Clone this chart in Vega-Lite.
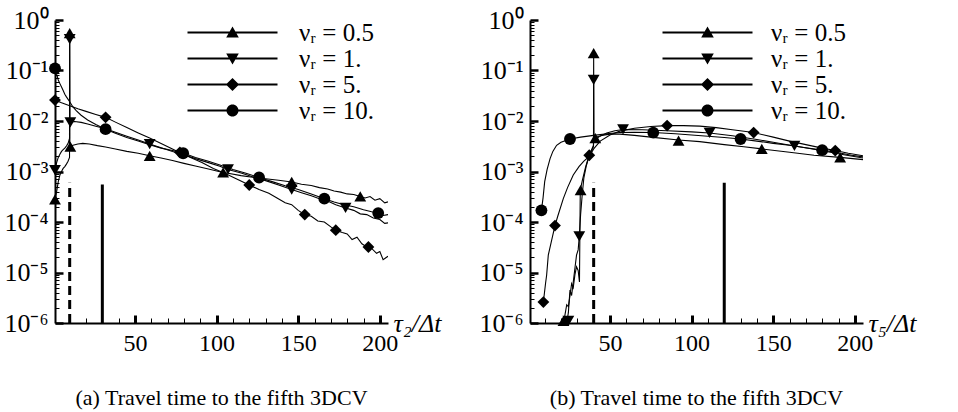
{
  "$schema": "https://vega.github.io/schema/vega-lite/v6.json",
  "background": "white",
  "padding": {"left": 3, "top": 7, "right": 5, "bottom": 5},
  "config": {"view": {"stroke": null}, "font": "Liberation Serif"},
  "datasets": {
    "lines": [
      {"p":"a","s":"0.5","x":1,"y":2.8e-4},{"p":"a","s":"0.5","x":2,"y":4.0e-4},{"p":"a","s":"0.5","x":3,"y":6.3e-4},{"p":"a","s":"0.5","x":4,"y":8.5e-4},{"p":"a","s":"0.5","x":5,"y":1.0e-3},{"p":"a","s":"0.5","x":6,"y":1.15e-3},{"p":"a","s":"0.5","x":7,"y":1.25e-3},{"p":"a","s":"0.5","x":8,"y":1.4e-3},{"p":"a","s":"0.5","x":9,"y":1.6e-3},{"p":"a","s":"0.5","x":9.9,"y":1.9e-3},{"p":"a","s":"0.5","x":10,"y":0.55},{"p":"a","s":"0.5","x":10.1,"y":3.1e-3},{"p":"a","s":"0.5","x":12,"y":3.3e-3},{"p":"a","s":"0.5","x":15,"y":3.5e-3},{"p":"a","s":"0.5","x":18,"y":3.6e-3},{"p":"a","s":"0.5","x":22,"y":3.5e-3},{"p":"a","s":"0.5","x":27,"y":3.25e-3},{"p":"a","s":"0.5","x":32,"y":3.05e-3},{"p":"a","s":"0.5","x":38,"y":2.8e-3},{"p":"a","s":"0.5","x":45,"y":2.5e-3},{"p":"a","s":"0.5","x":52,"y":2.3e-3},{"p":"a","s":"0.5","x":59,"y":2.05e-3},{"p":"a","s":"0.5","x":66,"y":1.85e-3},{"p":"a","s":"0.5","x":73,"y":1.65e-3},{"p":"a","s":"0.5","x":80,"y":1.45e-3},{"p":"a","s":"0.5","x":87,"y":1.28e-3},{"p":"a","s":"0.5","x":95,"y":1.12e-3},{"p":"a","s":"0.5","x":102,"y":9.9e-4},{"p":"a","s":"0.5","x":107,"y":9.2e-4},{"p":"a","s":"0.5","x":115,"y":8.3e-4},{"p":"a","s":"0.5","x":122,"y":7.7e-4},{"p":"a","s":"0.5","x":130,"y":7.2e-4},{"p":"a","s":"0.5","x":138,"y":6.7e-4},{"p":"a","s":"0.5","x":146,"y":6.2e-4},{"p":"a","s":"0.5","x":152,"y":5.6e-4},{"p":"a","s":"0.5","x":158,"y":5.3e-4},{"p":"a","s":"0.5","x":163,"y":4.8e-4},{"p":"a","s":"0.5","x":168,"y":4.5e-4},{"p":"a","s":"0.5","x":172,"y":4.1e-4},{"p":"a","s":"0.5","x":176,"y":3.9e-4},{"p":"a","s":"0.5","x":180,"y":3.6e-4},{"p":"a","s":"0.5","x":184,"y":3.5e-4},{"p":"a","s":"0.5","x":188,"y":3.2e-4},{"p":"a","s":"0.5","x":191,"y":3.0e-4},{"p":"a","s":"0.5","x":194,"y":3.2e-4},{"p":"a","s":"0.5","x":197,"y":2.7e-4},{"p":"a","s":"0.5","x":200,"y":2.9e-4},{"p":"a","s":"0.5","x":203,"y":2.4e-4},{"p":"a","s":"0.5","x":205,"y":2.5e-4},

      {"p":"a","s":"1.","x":1,"y":1.07e-3},{"p":"a","s":"1.","x":2,"y":1.5e-3},{"p":"a","s":"1.","x":3,"y":1.9e-3},{"p":"a","s":"1.","x":4,"y":2.2e-3},{"p":"a","s":"1.","x":5,"y":2.5e-3},{"p":"a","s":"1.","x":6,"y":2.7e-3},{"p":"a","s":"1.","x":7,"y":2.9e-3},{"p":"a","s":"1.","x":8,"y":3.2e-3},{"p":"a","s":"1.","x":9,"y":3.6e-3},{"p":"a","s":"1.","x":9.9,"y":4.5e-3},{"p":"a","s":"1.","x":10,"y":0.42},{"p":"a","s":"1.","x":10.1,"y":9.3e-3},{"p":"a","s":"1.","x":13,"y":9.8e-3},{"p":"a","s":"1.","x":17,"y":9.4e-3},{"p":"a","s":"1.","x":21,"y":8.7e-3},{"p":"a","s":"1.","x":26,"y":7.9e-3},{"p":"a","s":"1.","x":32,"y":7.0e-3},{"p":"a","s":"1.","x":38,"y":6.0e-3},{"p":"a","s":"1.","x":45,"y":5.0e-3},{"p":"a","s":"1.","x":52,"y":4.2e-3},{"p":"a","s":"1.","x":59,"y":3.5e-3},{"p":"a","s":"1.","x":66,"y":2.95e-3},{"p":"a","s":"1.","x":73,"y":2.5e-3},{"p":"a","s":"1.","x":80,"y":2.15e-3},{"p":"a","s":"1.","x":87,"y":1.8e-3},{"p":"a","s":"1.","x":95,"y":1.5e-3},{"p":"a","s":"1.","x":102,"y":1.27e-3},{"p":"a","s":"1.","x":107,"y":1.1e-3},{"p":"a","s":"1.","x":115,"y":9.3e-4},{"p":"a","s":"1.","x":122,"y":7.9e-4},{"p":"a","s":"1.","x":130,"y":6.6e-4},{"p":"a","s":"1.","x":138,"y":5.4e-4},{"p":"a","s":"1.","x":146,"y":4.4e-4},{"p":"a","s":"1.","x":152,"y":3.8e-4},{"p":"a","s":"1.","x":158,"y":3.3e-4},{"p":"a","s":"1.","x":163,"y":2.9e-4},{"p":"a","s":"1.","x":168,"y":2.6e-4},{"p":"a","s":"1.","x":173,"y":2.2e-4},{"p":"a","s":"1.","x":179,"y":1.9e-4},{"p":"a","s":"1.","x":184,"y":1.7e-4},{"p":"a","s":"1.","x":188,"y":1.45e-4},{"p":"a","s":"1.","x":192,"y":1.4e-4},{"p":"a","s":"1.","x":196,"y":1.2e-4},{"p":"a","s":"1.","x":200,"y":1.12e-4},{"p":"a","s":"1.","x":203,"y":9.4e-5},{"p":"a","s":"1.","x":205,"y":9.6e-5},

      {"p":"a","s":"5.","x":1,"y":0.026},{"p":"a","s":"5.","x":5,"y":0.023},{"p":"a","s":"5.","x":10,"y":0.02},{"p":"a","s":"5.","x":15,"y":0.0175},{"p":"a","s":"5.","x":20,"y":0.0155},{"p":"a","s":"5.","x":26,"y":0.0135},{"p":"a","s":"5.","x":32,"y":0.0118},{"p":"a","s":"5.","x":38,"y":9.5e-3},{"p":"a","s":"5.","x":45,"y":7.4e-3},{"p":"a","s":"5.","x":52,"y":5.8e-3},{"p":"a","s":"5.","x":59,"y":4.6e-3},{"p":"a","s":"5.","x":66,"y":3.6e-3},{"p":"a","s":"5.","x":72,"y":2.9e-3},{"p":"a","s":"5.","x":77,"y":2.4e-3},{"p":"a","s":"5.","x":84,"y":1.9e-3},{"p":"a","s":"5.","x":91,"y":1.5e-3},{"p":"a","s":"5.","x":98,"y":1.15e-3},{"p":"a","s":"5.","x":105,"y":9.2e-4},{"p":"a","s":"5.","x":112,"y":7.2e-4},{"p":"a","s":"5.","x":120,"y":5.4e-4},{"p":"a","s":"5.","x":126,"y":4.4e-4},{"p":"a","s":"5.","x":132,"y":3.7e-4},{"p":"a","s":"5.","x":137,"y":3.0e-4},{"p":"a","s":"5.","x":142,"y":2.4e-4},{"p":"a","s":"5.","x":146,"y":2.2e-4},{"p":"a","s":"5.","x":150,"y":1.7e-4},{"p":"a","s":"5.","x":154,"y":1.4e-4},{"p":"a","s":"5.","x":158,"y":1.3e-4},{"p":"a","s":"5.","x":162,"y":1.05e-4},{"p":"a","s":"5.","x":166,"y":1.0e-4},{"p":"a","s":"5.","x":170,"y":8.0e-5},{"p":"a","s":"5.","x":173,"y":6.9e-5},{"p":"a","s":"5.","x":177,"y":6.2e-5},{"p":"a","s":"5.","x":180,"y":5.8e-5},{"p":"a","s":"5.","x":183,"y":4.5e-5},{"p":"a","s":"5.","x":186,"y":5.0e-5},{"p":"a","s":"5.","x":189,"y":3.7e-5},{"p":"a","s":"5.","x":192,"y":3.2e-5},{"p":"a","s":"5.","x":195,"y":3.0e-5},{"p":"a","s":"5.","x":198,"y":2.4e-5},{"p":"a","s":"5.","x":200,"y":2.6e-5},{"p":"a","s":"5.","x":202,"y":1.8e-5},{"p":"a","s":"5.","x":205,"y":2.1e-5},

      {"p":"a","s":"10.","x":1,"y":0.11},{"p":"a","s":"10.","x":2,"y":0.085},{"p":"a","s":"10.","x":3,"y":0.065},{"p":"a","s":"10.","x":4,"y":0.055},{"p":"a","s":"10.","x":5,"y":0.047},{"p":"a","s":"10.","x":6,"y":0.04},{"p":"a","s":"10.","x":7,"y":0.034},{"p":"a","s":"10.","x":8,"y":0.03},{"p":"a","s":"10.","x":10,"y":0.024},{"p":"a","s":"10.","x":12,"y":0.019},{"p":"a","s":"10.","x":14,"y":0.016},{"p":"a","s":"10.","x":17,"y":0.013},{"p":"a","s":"10.","x":21,"y":0.0105},{"p":"a","s":"10.","x":26,"y":8.5e-3},{"p":"a","s":"10.","x":32,"y":6.9e-3},{"p":"a","s":"10.","x":38,"y":5.7e-3},{"p":"a","s":"10.","x":45,"y":4.7e-3},{"p":"a","s":"10.","x":52,"y":4.0e-3},{"p":"a","s":"10.","x":59,"y":3.4e-3},{"p":"a","s":"10.","x":66,"y":2.9e-3},{"p":"a","s":"10.","x":73,"y":2.6e-3},{"p":"a","s":"10.","x":80,"y":2.3e-3},{"p":"a","s":"10.","x":87,"y":1.9e-3},{"p":"a","s":"10.","x":95,"y":1.6e-3},{"p":"a","s":"10.","x":102,"y":1.35e-3},{"p":"a","s":"10.","x":110,"y":1.1e-3},{"p":"a","s":"10.","x":118,"y":9.2e-4},{"p":"a","s":"10.","x":126,"y":7.6e-4},{"p":"a","s":"10.","x":134,"y":6.3e-4},{"p":"a","s":"10.","x":142,"y":5.2e-4},{"p":"a","s":"10.","x":150,"y":4.4e-4},{"p":"a","s":"10.","x":158,"y":3.6e-4},{"p":"a","s":"10.","x":166,"y":2.9e-4},{"p":"a","s":"10.","x":172,"y":2.5e-4},{"p":"a","s":"10.","x":178,"y":2.2e-4},{"p":"a","s":"10.","x":184,"y":2.0e-4},{"p":"a","s":"10.","x":190,"y":1.75e-4},{"p":"a","s":"10.","x":195,"y":1.6e-4},{"p":"a","s":"10.","x":199,"y":1.5e-4},{"p":"a","s":"10.","x":202,"y":1.35e-4},{"p":"a","s":"10.","x":205,"y":1.4e-4},

      {"p":"b","s":"0.5","x":21.5,"y":1.0e-6},{"p":"b","s":"0.5","x":22.5,"y":1.5e-6},{"p":"b","s":"0.5","x":23.5,"y":2.3e-6},{"p":"b","s":"0.5","x":24.5,"y":2.1e-6},{"p":"b","s":"0.5","x":25.5,"y":3.5e-6},{"p":"b","s":"0.5","x":26.5,"y":6e-6},{"p":"b","s":"0.5","x":27.5,"y":5e-6},{"p":"b","s":"0.5","x":28.5,"y":9e-6},{"p":"b","s":"0.5","x":29.5,"y":1.3e-5},{"p":"b","s":"0.5","x":30.5,"y":1.1e-5},{"p":"b","s":"0.5","x":31.3,"y":6.5e-6},{"p":"b","s":"0.5","x":31.8,"y":4.3e-4},{"p":"b","s":"0.5","x":33,"y":6.5e-4},{"p":"b","s":"0.5","x":35,"y":1.2e-3},{"p":"b","s":"0.5","x":37,"y":2.0e-3},{"p":"b","s":"0.5","x":39.9,"y":3.3e-3},{"p":"b","s":"0.5","x":40,"y":0.22},{"p":"b","s":"0.5","x":40.1,"y":4.6e-3},{"p":"b","s":"0.5","x":45,"y":5.2e-3},{"p":"b","s":"0.5","x":50,"y":5.5e-3},{"p":"b","s":"0.5","x":56,"y":5.5e-3},{"p":"b","s":"0.5","x":65,"y":5.2e-3},{"p":"b","s":"0.5","x":75,"y":4.8e-3},{"p":"b","s":"0.5","x":92,"y":4.2e-3},{"p":"b","s":"0.5","x":105,"y":3.9e-3},{"p":"b","s":"0.5","x":120,"y":3.4e-3},{"p":"b","s":"0.5","x":132,"y":3.1e-3},{"p":"b","s":"0.5","x":143,"y":2.8e-3},{"p":"b","s":"0.5","x":160,"y":2.4e-3},{"p":"b","s":"0.5","x":175,"y":2.1e-3},{"p":"b","s":"0.5","x":191,"y":1.9e-3},{"p":"b","s":"0.5","x":205,"y":1.72e-3},

      {"p":"b","s":"1.","x":23.5,"y":1.0e-6},{"p":"b","s":"1.","x":24.5,"y":1.6e-6},{"p":"b","s":"1.","x":25.5,"y":4.5e-6},{"p":"b","s":"1.","x":26.5,"y":3.5e-6},{"p":"b","s":"1.","x":27.5,"y":6.5e-6},{"p":"b","s":"1.","x":28.5,"y":1.2e-5},{"p":"b","s":"1.","x":29.5,"y":2.2e-5},{"p":"b","s":"1.","x":30.5,"y":2.8e-5},{"p":"b","s":"1.","x":31.2,"y":5.2e-5},{"p":"b","s":"1.","x":32,"y":1.4e-4},{"p":"b","s":"1.","x":33,"y":3.5e-4},{"p":"b","s":"1.","x":34,"y":7.5e-4},{"p":"b","s":"1.","x":35.5,"y":1.3e-3},{"p":"b","s":"1.","x":37,"y":1.9e-3},{"p":"b","s":"1.","x":38.5,"y":2.5e-3},{"p":"b","s":"1.","x":39.9,"y":3.1e-3},{"p":"b","s":"1.","x":40,"y":0.065},{"p":"b","s":"1.","x":40.1,"y":3.9e-3},{"p":"b","s":"1.","x":43,"y":4.8e-3},{"p":"b","s":"1.","x":48,"y":5.8e-3},{"p":"b","s":"1.","x":53,"y":6.4e-3},{"p":"b","s":"1.","x":58,"y":6.8e-3},{"p":"b","s":"1.","x":70,"y":6.7e-3},{"p":"b","s":"1.","x":85,"y":6.4e-3},{"p":"b","s":"1.","x":100,"y":6.1e-3},{"p":"b","s":"1.","x":111,"y":5.8e-3},{"p":"b","s":"1.","x":125,"y":5.1e-3},{"p":"b","s":"1.","x":140,"y":4.3e-3},{"p":"b","s":"1.","x":150,"y":3.8e-3},{"p":"b","s":"1.","x":163,"y":3.2e-3},{"p":"b","s":"1.","x":175,"y":2.75e-3},{"p":"b","s":"1.","x":185,"y":2.4e-3},{"p":"b","s":"1.","x":195,"y":2.1e-3},{"p":"b","s":"1.","x":205,"y":1.85e-3},

      {"p":"b","s":"5.","x":9.2,"y":2.6e-6},{"p":"b","s":"5.","x":10.5,"y":6e-6},{"p":"b","s":"5.","x":11.2,"y":8.9e-6},{"p":"b","s":"5.","x":12.2,"y":2.2e-5},{"p":"b","s":"5.","x":14,"y":4e-5},{"p":"b","s":"5.","x":16.3,"y":8.5e-5},{"p":"b","s":"5.","x":18,"y":1.3e-4},{"p":"b","s":"5.","x":21.4,"y":2.9e-4},{"p":"b","s":"5.","x":24,"y":4.8e-4},{"p":"b","s":"5.","x":27.5,"y":8.5e-4},{"p":"b","s":"5.","x":31,"y":1.25e-3},{"p":"b","s":"5.","x":34,"y":1.6e-3},{"p":"b","s":"5.","x":37.3,"y":2.0e-3},{"p":"b","s":"5.","x":40,"y":2.8e-3},{"p":"b","s":"5.","x":44,"y":4.0e-3},{"p":"b","s":"5.","x":50,"y":5.3e-3},{"p":"b","s":"5.","x":56,"y":6.3e-3},{"p":"b","s":"5.","x":65,"y":7.2e-3},{"p":"b","s":"5.","x":75,"y":7.8e-3},{"p":"b","s":"5.","x":85,"y":8.1e-3},{"p":"b","s":"5.","x":95,"y":8.1e-3},{"p":"b","s":"5.","x":105,"y":7.9e-3},{"p":"b","s":"5.","x":115,"y":7.4e-3},{"p":"b","s":"5.","x":125,"y":6.7e-3},{"p":"b","s":"5.","x":138,"y":5.9e-3},{"p":"b","s":"5.","x":150,"y":4.8e-3},{"p":"b","s":"5.","x":160,"y":4.0e-3},{"p":"b","s":"5.","x":170,"y":3.4e-3},{"p":"b","s":"5.","x":180,"y":2.9e-3},{"p":"b","s":"5.","x":188,"y":2.6e-3},{"p":"b","s":"5.","x":196,"y":2.3e-3},{"p":"b","s":"5.","x":205,"y":2.05e-3},

      {"p":"b","s":"10.","x":8,"y":1.7e-4},{"p":"b","s":"10.","x":9,"y":3.0e-4},{"p":"b","s":"10.","x":10,"y":6.3e-4},{"p":"b","s":"10.","x":11.5,"y":1.1e-3},{"p":"b","s":"10.","x":13.3,"y":1.8e-3},{"p":"b","s":"10.","x":15,"y":2.5e-3},{"p":"b","s":"10.","x":17.3,"y":3.3e-3},{"p":"b","s":"10.","x":20,"y":3.8e-3},{"p":"b","s":"10.","x":25.5,"y":4.4e-3},{"p":"b","s":"10.","x":32,"y":4.8e-3},{"p":"b","s":"10.","x":40,"y":5.2e-3},{"p":"b","s":"10.","x":48,"y":5.6e-3},{"p":"b","s":"10.","x":56,"y":5.9e-3},{"p":"b","s":"10.","x":65,"y":6.0e-3},{"p":"b","s":"10.","x":76.5,"y":5.9e-3},{"p":"b","s":"10.","x":90,"y":5.6e-3},{"p":"b","s":"10.","x":100,"y":5.3e-3},{"p":"b","s":"10.","x":110,"y":5.0e-3},{"p":"b","s":"10.","x":120,"y":4.7e-3},{"p":"b","s":"10.","x":130,"y":4.4e-3},{"p":"b","s":"10.","x":140,"y":4.0e-3},{"p":"b","s":"10.","x":150,"y":3.6e-3},{"p":"b","s":"10.","x":160,"y":3.3e-3},{"p":"b","s":"10.","x":170,"y":2.95e-3},{"p":"b","s":"10.","x":180,"y":2.65e-3},{"p":"b","s":"10.","x":190,"y":2.35e-3},{"p":"b","s":"10.","x":198,"y":2.1e-3},{"p":"b","s":"10.","x":205,"y":1.95e-3}
    ],
    "markers": [
      {"p":"a","s":"0.5","x":1,"y":2.8e-4},{"p":"a","s":"0.5","x":10,"y":0.55},{"p":"a","s":"0.5","x":10.4,"y":3.1e-3},{"p":"a","s":"0.5","x":59,"y":2.05e-3},{"p":"a","s":"0.5","x":104,"y":9.6e-4},{"p":"a","s":"0.5","x":146,"y":6.2e-4},{"p":"a","s":"0.5","x":188,"y":3.2e-4},
      {"p":"a","s":"1.","x":1,"y":1.07e-3},{"p":"a","s":"1.","x":10,"y":0.42},{"p":"a","s":"1.","x":10.4,"y":9.4e-3},{"p":"a","s":"1.","x":59,"y":3.5e-3},{"p":"a","s":"1.","x":107,"y":1.1e-3},{"p":"a","s":"1.","x":146,"y":4.4e-4},{"p":"a","s":"1.","x":179,"y":1.9e-4},
      {"p":"a","s":"5.","x":1,"y":0.026},{"p":"a","s":"5.","x":32,"y":0.0118},{"p":"a","s":"5.","x":77.5,"y":2.4e-3},{"p":"a","s":"5.","x":120,"y":5.4e-4},{"p":"a","s":"5.","x":154,"y":1.4e-4},{"p":"a","s":"5.","x":173,"y":6.9e-5},{"p":"a","s":"5.","x":193,"y":3.2e-5},
      {"p":"a","s":"10.","x":1,"y":0.11},{"p":"a","s":"10.","x":32,"y":6.9e-3},{"p":"a","s":"10.","x":79.5,"y":2.3e-3},{"p":"a","s":"10.","x":126,"y":7.6e-4},{"p":"a","s":"10.","x":166,"y":2.9e-4},{"p":"a","s":"10.","x":199,"y":1.5e-4},
      {"p":"b","s":"0.5","x":21.5,"y":1.1e-6},{"p":"b","s":"0.5","x":32,"y":4.3e-4},{"p":"b","s":"0.5","x":40,"y":0.22},{"p":"b","s":"0.5","x":41,"y":4.6e-3},{"p":"b","s":"0.5","x":92,"y":4.1e-3},{"p":"b","s":"0.5","x":143,"y":2.8e-3},{"p":"b","s":"0.5","x":191,"y":1.9e-3},
      {"p":"b","s":"1.","x":24.5,"y":1.1e-6},{"p":"b","s":"1.","x":31.2,"y":5.2e-5},{"p":"b","s":"1.","x":40,"y":0.065},{"p":"b","s":"1.","x":58,"y":6.8e-3},{"p":"b","s":"1.","x":111,"y":5.8e-3},{"p":"b","s":"1.","x":163,"y":3.2e-3},
      {"p":"b","s":"5.","x":9.2,"y":2.6e-6},{"p":"b","s":"5.","x":16.3,"y":8.5e-5},{"p":"b","s":"5.","x":37.3,"y":2.1e-3},{"p":"b","s":"5.","x":85,"y":8.1e-3},{"p":"b","s":"5.","x":138,"y":5.9e-3},{"p":"b","s":"5.","x":188,"y":2.6e-3},
      {"p":"b","s":"10.","x":8,"y":1.7e-4},{"p":"b","s":"10.","x":25.5,"y":4.4e-3},{"p":"b","s":"10.","x":76.5,"y":5.9e-3},{"p":"b","s":"10.","x":130,"y":4.4e-3},{"p":"b","s":"10.","x":180,"y":2.65e-3}
    ],
    "vlines": [
      {"p":"a","k":"dashed","x":10,"y0":1e-6,"y1":6e-4},
      {"p":"a","k":"solid","x":30,"y0":1e-6,"y1":5.5e-4},
      {"p":"b","k":"dashed","x":40,"y0":1e-6,"y1":6e-4},
      {"p":"b","k":"solid","x":120,"y0":1e-6,"y1":6e-4}
    ]
  },
  "hconcat": [
    {
      "width": 333,
      "height": 303,
      "title": {"text": "(a) Travel time to the fifth 3DCV", "orient": "bottom", "anchor": "middle", "font": "Liberation Serif", "fontSize": 22, "fontWeight": "normal", "color": "black", "offset": 33},
      "resolve": {"scale": {"shape": "independent"}, "legend": {"shape": "independent"}, "axis": {"x": "independent", "y": "independent"}},
      "layer": [
        {
          "data": {"name": "lines"},
          "transform": [{"filter": "datum.p === 'a'"}],
          "mark": {"type": "line", "color": "black", "strokeWidth": 1.1, "clip": true},
          "encoding": {
            "x": {"field": "x", "type": "quantitative", "scale": {"domain": [1, 205], "nice": false, "zero": false},
              "axis": {"orient": "bottom", "title": "τ₂/Δt", "titleX": 338, "titleY": 0, "titleAlign": "left", "titleBaseline": "middle", "titleAngle": 0, "titleFont": "Liberation Serif", "titleFontSize": 26, "titleFontStyle": "italic", "titleFontWeight": "normal", "titleColor": "black",
                "values": [50, 100, 150, 200], "ticks": false,
                "labelFont": "Liberation Serif", "labelFontSize": 24, "labelColor": "black", "labelPadding": 8, "labelOverlap": false, "labelBound": false, "labelFlush": false,
                "domainColor": "black", "domainWidth": 2, "grid": false}},
            "y": {"field": "y", "type": "quantitative", "scale": {"type": "log", "domain": [1e-6, 1], "nice": false},
              "axis": {"orient": "left", "title": null, "values": [1e-6, 1e-5, 1e-4, 1e-3, 1e-2, 0.1, 1], "ticks": false,
                "labelExpr": "'10' + ['⁰','⁻¹','⁻²','⁻³','⁻⁴','⁻⁵','⁻⁶'][-round(log(datum.value)/LN10)]",
                "labelFont": "Liberation Serif", "labelFontSize": 26, "labelColor": "black", "labelPadding": 7, "labelOverlap": false, "labelBound": false, "labelFlush": false,
                "domainColor": "black", "domainWidth": 2, "grid": false}},
            "detail": {"field": "s", "type": "nominal"}
          }
        },
        {
          "data": {"name": "vlines"},
          "transform": [{"filter": "datum.p === 'a'"}],
          "mark": {"type": "rule", "color": "black", "strokeWidth": 3},
          "encoding": {
            "x": {"field": "x", "type": "quantitative",
              "axis": {"orient": "bottom", "offset": -8, "title": null, "values": [50, 100, 150, 200], "labels": false, "domain": false, "grid": false, "ticks": true, "tickSize": 8, "tickWidth": 3, "tickColor": "black"}},
            "y": {"field": "y0", "type": "quantitative",
              "axis": {"orient": "left", "offset": -8, "title": null, "values": [1e-6, 1e-5, 1e-4, 1e-3, 1e-2, 0.1, 1], "labels": false, "domain": false, "grid": false, "ticks": true, "tickSize": 8, "tickWidth": 2.5, "tickColor": "black"}},
            "y2": {"field": "y1"},
            "strokeDash": {"field": "k", "type": "nominal", "scale": {"domain": ["solid", "dashed"], "range": [[1, 0], [9, 5]]}, "legend": null}
          }
        },
        {
          "data": {"name": "markers"},
          "transform": [{"filter": "datum.p === 'a'"}],
          "mark": {"type": "point", "filled": true, "color": "black", "size": 140, "opacity": 1},
          "encoding": {
            "x": {"field": "x", "type": "quantitative",
              "axis": {"orient": "bottom", "offset": -5, "title": null, "values": [10,20,30,40,60,70,80,90,110,120,130,140,160,170,180,190], "labels": false, "domain": false, "grid": false, "ticks": true, "tickSize": 5, "tickWidth": 1, "tickColor": "black"}},
            "y": {"field": "y", "type": "quantitative",
              "axis": {"orient": "left", "offset": -4, "title": null, "values": [2e-6,3e-6,4e-6,5e-6,6e-6,7e-6,8e-6,9e-6,2e-5,3e-5,4e-5,5e-5,6e-5,7e-5,8e-5,9e-5,2e-4,3e-4,4e-4,5e-4,6e-4,7e-4,8e-4,9e-4,2e-3,3e-3,4e-3,5e-3,6e-3,7e-3,8e-3,9e-3,2e-2,3e-2,4e-2,5e-2,6e-2,7e-2,8e-2,9e-2,0.2,0.3,0.4,0.5,0.6,0.7,0.8,0.9], "labels": false, "domain": false, "grid": false, "ticks": true, "tickSize": 4, "tickWidth": 1, "tickColor": "black"}},
            "shape": {"field": "s", "type": "nominal", "scale": {"domain": ["0.5", "1.", "5.", "10."], "range": ["triangle-up", "triangle-down", "diamond", "circle"]}, "legend": null}
          }
        },
        {
          "data": {"name": "markers"},
          "transform": [{"filter": "datum.p === 'none'"}],
          "mark": {"type": "point", "filled": true, "color": "black", "opacity": 1},
          "encoding": {
            "shape": {"field": "s", "type": "nominal",
              "scale": {"domain": ["0.5", "1.", "5.", "10."], "range": [
                "M-7.5,-0.15H7.5V0.15H-7.5ZM0,-1L1.05,0.85H-1.05Z",
                "M-7.5,-0.15H7.5V0.15H-7.5ZM0,1L-1.05,-0.85H1.05Z",
                "M-7.5,-0.15H7.5V0.15H-7.5ZM0,-1.1L1.1,0L0,1.1L-1.1,0Z",
                "M-7.5,-0.15H7.5V0.15H-7.5ZM1,0A1,1,0,1,1,-1,0A1,1,0,1,1,1,0Z"]},
              "legend": {"orient": "none", "legendX": 165, "legendY": 0, "title": null, "labelFont": "Liberation Serif", "labelFontSize": 25, "labelColor": "black", "labelOffset": 54, "symbolSize": 144, "symbolFillColor": "black", "symbolOpacity": 1, "rowPadding": -1.7, "labelExpr": "'νᵣ  =  ' + datum.label"}}
          }
        }
      ]
    },
    {
      "width": 333,
      "height": 303,
      "title": {"text": "(b) Travel time to the fifth 3DCV", "orient": "bottom", "anchor": "middle", "font": "Liberation Serif", "fontSize": 22, "fontWeight": "normal", "color": "black", "offset": 33},
      "resolve": {"scale": {"shape": "independent"}, "legend": {"shape": "independent"}, "axis": {"x": "independent", "y": "independent"}},
      "layer": [
        {
          "data": {"name": "lines"},
          "transform": [{"filter": "datum.p === 'b'"}],
          "mark": {"type": "line", "color": "black", "strokeWidth": 1.1, "clip": true},
          "encoding": {
            "x": {"field": "x", "type": "quantitative", "scale": {"domain": [1, 205], "nice": false, "zero": false},
              "axis": {"orient": "bottom", "title": "τ₅/Δt", "titleX": 338, "titleY": 0, "titleAlign": "left", "titleBaseline": "middle", "titleAngle": 0, "titleFont": "Liberation Serif", "titleFontSize": 26, "titleFontStyle": "italic", "titleFontWeight": "normal", "titleColor": "black",
                "values": [50, 100, 150, 200], "ticks": false,
                "labelFont": "Liberation Serif", "labelFontSize": 24, "labelColor": "black", "labelPadding": 8, "labelOverlap": false, "labelBound": false, "labelFlush": false,
                "domainColor": "black", "domainWidth": 2, "grid": false}},
            "y": {"field": "y", "type": "quantitative", "scale": {"type": "log", "domain": [1e-6, 1], "nice": false},
              "axis": {"orient": "left", "title": null, "values": [1e-6, 1e-5, 1e-4, 1e-3, 1e-2, 0.1, 1], "ticks": false,
                "labelExpr": "'10' + ['⁰','⁻¹','⁻²','⁻³','⁻⁴','⁻⁵','⁻⁶'][-round(log(datum.value)/LN10)]",
                "labelFont": "Liberation Serif", "labelFontSize": 26, "labelColor": "black", "labelPadding": 7, "labelOverlap": false, "labelBound": false, "labelFlush": false,
                "domainColor": "black", "domainWidth": 2, "grid": false}},
            "detail": {"field": "s", "type": "nominal"}
          }
        },
        {
          "data": {"name": "vlines"},
          "transform": [{"filter": "datum.p === 'b'"}],
          "mark": {"type": "rule", "color": "black", "strokeWidth": 3},
          "encoding": {
            "x": {"field": "x", "type": "quantitative",
              "axis": {"orient": "bottom", "offset": -8, "title": null, "values": [50, 100, 150, 200], "labels": false, "domain": false, "grid": false, "ticks": true, "tickSize": 8, "tickWidth": 3, "tickColor": "black"}},
            "y": {"field": "y0", "type": "quantitative",
              "axis": {"orient": "left", "offset": -8, "title": null, "values": [1e-6, 1e-5, 1e-4, 1e-3, 1e-2, 0.1, 1], "labels": false, "domain": false, "grid": false, "ticks": true, "tickSize": 8, "tickWidth": 2.5, "tickColor": "black"}},
            "y2": {"field": "y1"},
            "strokeDash": {"field": "k", "type": "nominal", "scale": {"domain": ["solid", "dashed"], "range": [[1, 0], [9, 5]]}, "legend": null}
          }
        },
        {
          "data": {"name": "markers"},
          "transform": [{"filter": "datum.p === 'b'"}],
          "mark": {"type": "point", "filled": true, "color": "black", "size": 140, "opacity": 1},
          "encoding": {
            "x": {"field": "x", "type": "quantitative",
              "axis": {"orient": "bottom", "offset": -5, "title": null, "values": [10,20,30,40,60,70,80,90,110,120,130,140,160,170,180,190], "labels": false, "domain": false, "grid": false, "ticks": true, "tickSize": 5, "tickWidth": 1, "tickColor": "black"}},
            "y": {"field": "y", "type": "quantitative",
              "axis": {"orient": "left", "offset": -4, "title": null, "values": [2e-6,3e-6,4e-6,5e-6,6e-6,7e-6,8e-6,9e-6,2e-5,3e-5,4e-5,5e-5,6e-5,7e-5,8e-5,9e-5,2e-4,3e-4,4e-4,5e-4,6e-4,7e-4,8e-4,9e-4,2e-3,3e-3,4e-3,5e-3,6e-3,7e-3,8e-3,9e-3,2e-2,3e-2,4e-2,5e-2,6e-2,7e-2,8e-2,9e-2,0.2,0.3,0.4,0.5,0.6,0.7,0.8,0.9], "labels": false, "domain": false, "grid": false, "ticks": true, "tickSize": 4, "tickWidth": 1, "tickColor": "black"}},
            "shape": {"field": "s", "type": "nominal", "scale": {"domain": ["0.5", "1.", "5.", "10."], "range": ["triangle-up", "triangle-down", "diamond", "circle"]}, "legend": null}
          }
        },
        {
          "data": {"name": "markers"},
          "transform": [{"filter": "datum.p === 'none'"}],
          "mark": {"type": "point", "filled": true, "color": "black", "opacity": 1},
          "encoding": {
            "shape": {"field": "s", "type": "nominal",
              "scale": {"domain": ["0.5", "1.", "5.", "10."], "range": [
                "M-7.5,-0.15H7.5V0.15H-7.5ZM0,-1L1.05,0.85H-1.05Z",
                "M-7.5,-0.15H7.5V0.15H-7.5ZM0,1L-1.05,-0.85H1.05Z",
                "M-7.5,-0.15H7.5V0.15H-7.5ZM0,-1.1L1.1,0L0,1.1L-1.1,0Z",
                "M-7.5,-0.15H7.5V0.15H-7.5ZM1,0A1,1,0,1,1,-1,0A1,1,0,1,1,1,0Z"]},
              "legend": {"orient": "none", "legendX": 165, "legendY": 0, "title": null, "labelFont": "Liberation Serif", "labelFontSize": 25, "labelColor": "black", "labelOffset": 51, "symbolSize": 144, "symbolFillColor": "black", "symbolOpacity": 1, "rowPadding": -1.7, "labelExpr": "'νᵣ  =  ' + datum.label"}}
          }
        }
      ]
    }
  ],
  "spacing": 142,
  "bounds": "flush",
  "resolve": {"scale": {"x": "independent", "y": "independent", "shape": "independent", "strokeDash": "independent"}, "legend": {"shape": "independent"}}
}
